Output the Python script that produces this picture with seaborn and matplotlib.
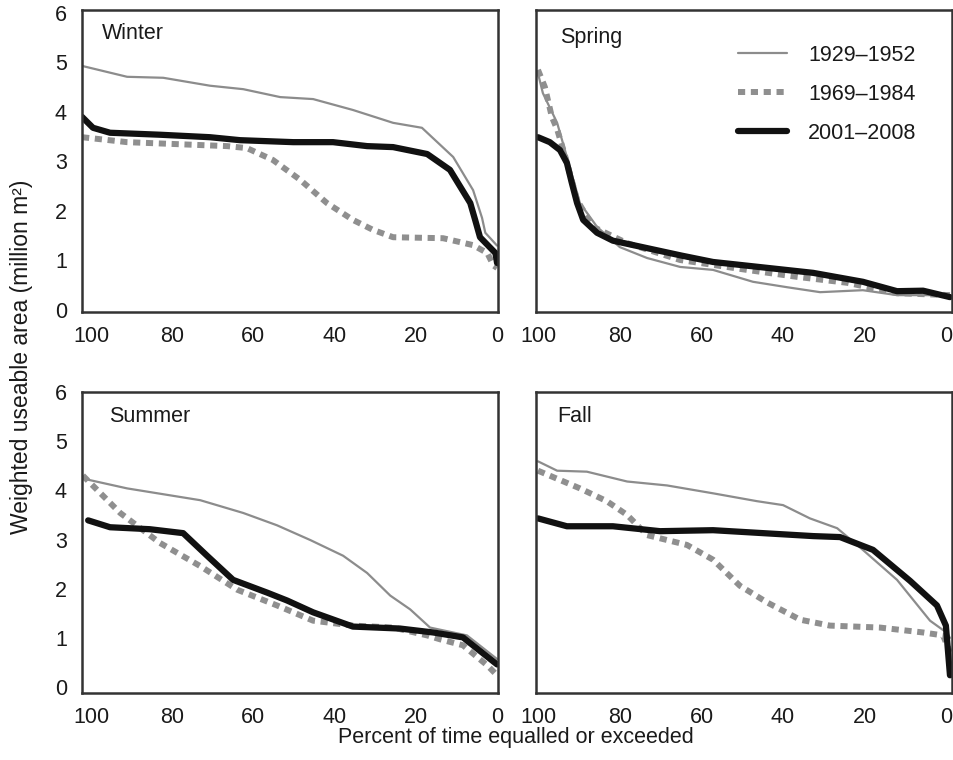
import matplotlib
matplotlib.use("Agg")
import matplotlib.pyplot as plt
import pandas as pd
import seaborn as sns

periods = ["1929–1952", "1969–1984", "2001–2008"]

# Winter
winter_x_1929 = [102.2, 91.1, 82.2, 70.7, 62.5, 53.4, 45.3, 35.5, 25.6, 18.5, 10.8, 5.9, 3.7, 2.9, 0.0]
winter_y_1929 = [4.93, 4.71, 4.69, 4.53, 4.46, 4.30, 4.26, 4.04, 3.78, 3.68, 3.09, 2.42, 1.86, 1.56, 1.30]
winter_x_1969 = [102.2, 91.1, 66.5, 61.6, 55.2, 48.5, 41.9, 35.5, 30.6, 25.6, 13.3, 5.9, 2.4, 0.9, 0.0]
winter_y_1969 = [3.49, 3.39, 3.31, 3.27, 3.03, 2.63, 2.16, 1.82, 1.62, 1.47, 1.45, 1.31, 1.15, 0.90, 0.85]
winter_x_2001 = [102.2, 99.5, 95.3, 83.0, 70.7, 63.3, 50.2, 40.4, 32.0, 25.6, 17.2, 11.6, 6.6, 5.4, 4.2, 0.4, 0.0]
winter_y_2001 = [3.90, 3.68, 3.58, 3.54, 3.49, 3.43, 3.39, 3.39, 3.31, 3.29, 3.15, 2.83, 2.16, 1.82, 1.47, 1.15, 0.95]

# Spring
spring_x_1929 = [100.2, 99.0, 95.5, 93.1, 89.9, 85.7, 80.1, 73.4, 65.3, 57.2, 47.4, 39.0, 30.9, 20.4, 12.0, -1.0]
spring_y_1929 = [4.78, 4.38, 3.78, 3.09, 2.16, 1.68, 1.27, 1.05, 0.87, 0.81, 0.57, 0.46, 0.36, 0.40, 0.30, 0.30]
spring_x_1969 = [100.2, 98.5, 96.8, 95.5, 93.5, 90.6, 86.7, 78.3, 65.3, 48.9, 36.6, 24.3, 12.0, -1.0]
spring_y_1969 = [4.85, 4.50, 3.90, 3.65, 3.10, 2.22, 1.68, 1.35, 1.01, 0.81, 0.67, 0.55, 0.34, 0.30]
spring_x_2001 = [100.2, 97.3, 94.8, 93.1, 91.9, 90.6, 89.1, 85.7, 81.8, 75.1, 65.0, 57.2, 44.9, 32.6, 20.4, 12.0, 5.6, -1.0]
spring_y_2001 = [3.49, 3.39, 3.23, 2.97, 2.57, 2.16, 1.82, 1.56, 1.40, 1.28, 1.10, 0.97, 0.86, 0.75, 0.57, 0.38, 0.39, 0.26]

# Summer
summer_x_1929 = [102.0, 91.1, 73.1, 62.5, 54.2, 46.0, 37.9, 32.0, 26.3, 21.4, 16.5, 7.4, 0.0]
summer_y_1929 = [4.24, 4.04, 3.80, 3.54, 3.29, 2.99, 2.67, 2.32, 1.86, 1.58, 1.21, 1.05, 0.57]
summer_x_1969 = [102.0, 92.8, 83.0, 73.1, 64.0, 54.2, 45.3, 35.5, 25.6, 17.2, 14.0, 8.4, 2.4, 0.0]
summer_y_1969 = [4.30, 3.54, 2.93, 2.46, 1.98, 1.66, 1.35, 1.25, 1.21, 1.05, 0.97, 0.85, 0.44, 0.24]
summer_x_2001 = [100.7, 95.3, 85.5, 77.3, 71.4, 65.0, 56.6, 51.7, 45.3, 35.5, 23.9, 15.7, 8.4, 0.0]
summer_y_2001 = [3.39, 3.25, 3.21, 3.13, 2.67, 2.18, 1.92, 1.76, 1.52, 1.23, 1.19, 1.11, 1.01, 0.46]

# Fall
fall_x_1929 = [100.2, 95.5, 88.2, 78.3, 68.5, 57.2, 46.4, 40.0, 33.4, 26.7, 20.4, 12.0, 3.9, -0.3, -1.0]
fall_y_1929 = [4.59, 4.40, 4.38, 4.18, 4.10, 3.94, 3.78, 3.70, 3.43, 3.23, 2.79, 2.18, 1.35, 1.10, 1.00]
fall_x_1969 = [100.2, 89.9, 83.3, 78.3, 73.4, 63.6, 57.2, 50.6, 43.9, 35.8, 28.5, 16.2, 5.6, 0.7, -1.0]
fall_y_1969 = [4.40, 4.04, 3.78, 3.50, 3.09, 2.89, 2.59, 2.06, 1.72, 1.37, 1.25, 1.21, 1.11, 1.05, 0.71]
fall_x_2001 = [100.2, 93.1, 81.8, 70.2, 57.2, 44.9, 32.6, 26.0, 17.9, 8.8, 2.2, 0.0, -1.0]
fall_y_2001 = [3.43, 3.27, 3.27, 3.17, 3.19, 3.13, 3.07, 3.05, 2.79, 2.16, 1.66, 1.25, 0.24]

xticks = [100, 80, 60, 40, 20, 0]
yticks = [0, 1, 2, 3, 4, 5, 6]

panels = [
    ("Winter", [(winter_x_1929, winter_y_1929), (winter_x_1969, winter_y_1969), (winter_x_2001, winter_y_2001)]),
    ("Spring", [(spring_x_1929, spring_y_1929), (spring_x_1969, spring_y_1969), (spring_x_2001, spring_y_2001)]),
    ("Summer", [(summer_x_1929, summer_y_1929), (summer_x_1969, summer_y_1969), (summer_x_2001, summer_y_2001)]),
    ("Fall", [(fall_x_1929, fall_y_1929), (fall_x_1969, fall_y_1969), (fall_x_2001, fall_y_2001)]),
]

line_styles = {
    "1929–1952": dict(color="#8c8c8c", linewidth=1.6, linestyle="-"),
    "1969–1984": dict(color="#8f8f8f", linewidth=4.3, linestyle=(0, (1.2, 0.95))),
    "2001–2008": dict(color="#111111", linewidth=4.5, linestyle="-"),
}

sns.set_theme(style="white")
plt.rcParams["font.family"] = ["Liberation Sans", "DejaVu Sans"]

fig = plt.figure(figsize=(9.54, 7.6), dpi=100)

# axes rects: left col / right col, top row / bottom row
rects = [
    [0.0860, 0.5895, 0.4361, 0.3974],
    [0.5618, 0.5895, 0.4361, 0.3974],
    [0.0860, 0.0882, 0.4361, 0.3960],
    [0.5618, 0.0882, 0.4361, 0.3960],
]
xlims = [(102.2, -0.25), (100.7, -1.5), (102.2, -0.25), (100.7, -1.5)]
ylims = [(-0.04, 6.06), (-0.04, 6.06), (-0.12, 6.0), (-0.12, 6.0)]
label_pos = [(0.048, 0.922), (0.058, 0.91), (0.065, 0.92), (0.05, 0.92)]

for i, (season, series) in enumerate(panels):
    ax = fig.add_axes(rects[i])
    for period, (xs, ys) in zip(periods, series):
        df = pd.DataFrame({"pct": xs, "wua": ys})
        sns.lineplot(data=df, x="pct", y="wua", ax=ax, estimator=None, sort=False,
                     label=period, legend=False, **line_styles[period])
    ax.set_xlim(*xlims[i])
    ax.set_ylim(*ylims[i])
    ax.set_xticks(xticks)
    ax.set_yticks(yticks)
    ax.set_xlabel("")
    ax.set_ylabel("")
    ax.tick_params(axis="both", length=0, labelsize=15.5, colors="#1a1a1a")
    ax.tick_params(axis="x", pad=10)
    ax.tick_params(axis="y", pad=11)
    if i % 2 == 1:
        ax.set_yticklabels([])
    for sp in ax.spines.values():
        sp.set_color("#333333")
        sp.set_linewidth(1.8)
    ax.text(label_pos[i][0], label_pos[i][1], season, transform=ax.transAxes,
            fontsize=15.5, color="#1a1a1a", va="center", ha="left")
    if season == "Spring":
        leg = ax.legend(loc="upper left", bbox_to_anchor=(0.486, 0.885), frameon=False,
                        fontsize=15.5, handlelength=2.28, handletextpad=0.98,
                        labelspacing=0.84, borderpad=0, borderaxespad=0)
        for t in leg.get_texts():
            t.set_color("#1a1a1a")

fig.text(0.023, 0.530, "Weighted useable area (million m²)", rotation=90,
         ha="center", va="center", fontsize=16.5, color="#1a1a1a")
fig.text(0.541, 0.029, "Percent of time equalled or exceeded",
         ha="center", va="center", fontsize=15.5, color="#1a1a1a")

fig.savefig("out.png", dpi=100)
